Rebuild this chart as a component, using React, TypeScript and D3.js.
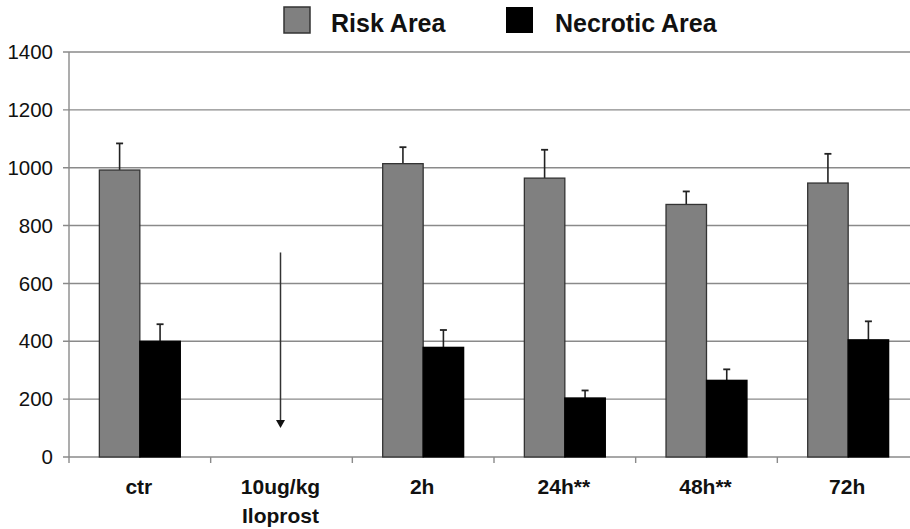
import React from 'react';
import * as d3 from 'd3';

const categories = ['ctr', '10ug/kg\nIloprost', '2h', '24h**', '48h**', '72h'];
const seriesNames = ['Risk Area', 'Necrotic Area'];
const riskValues = [992, null, 1014, 964, 873, 947];
const riskErrors = [92, null, 57, 98, 45, 101];
const necroticValues = [400, null, 379, 204, 265, 405];
const necroticErrors = [59, null, 60, 26, 38, 64];
const yTicks = [0, 200, 400, 600, 800, 1000, 1200, 1400];
// arrow drawn in the Iloprost slot (from / to, in data units)
const arrowFrom = 707;
const arrowTo = 100;

const W = 910;
const H = 529;
const colors = ['#808080', '#000000'];

const App = () => {
    const x0 = d3.scaleBand().domain(categories).range([69, 919]);
    const x1 = d3.scaleBand().domain(seriesNames).range([0, x0.bandwidth()]).paddingOuter(0.75);
    const y = d3.scaleLinear().domain([0, 1400]).range([457, 52]);

    const values = [riskValues, necroticValues];
    const errors = [riskErrors, necroticErrors];
    const font = '"Liberation Sans", Arial, sans-serif';

    const arrowX = x0(categories[1]) + x0.bandwidth() / 2 - 1;

    return (
        <svg width={W} height={H} style={{ position: 'absolute', left: 0, top: 0, background: '#fff' }}>
            {/* gridlines */}
            {yTicks.map(t => (
                <g key={t}>
                    <line x1={63} x2={W} y1={y(t)} y2={y(t)} stroke="#8a8a8a" strokeWidth={1.4} />
                    <text x={53} y={y(t)} dy="0.35em" textAnchor="end" fontFamily={font} fontSize={20.5} fill="#111">
                        {t}
                    </text>
                </g>
            ))}
            {/* y axis */}
            <line x1={69} x2={69} y1={y(1400)} y2={y(0)} stroke="#8a8a8a" strokeWidth={1.4} />
            {/* x axis ticks */}
            {categories.map((c, i) => (
                <line key={'t' + i} x1={x0(c)} x2={x0(c)} y1={y(0)} y2={y(0) + 6} stroke="#8a8a8a" strokeWidth={1.4} />
            ))}

            {/* bars */}
            {categories.map((c, i) => (
                <g key={c} transform={`translate(${x0(c)},0)`}>
                    {seriesNames.map((s, j) => {
                        const v = values[j][i];
                        if (v == null) return null;
                        const e = errors[j][i];
                        const bx = x1(s);
                        const cx = bx + x1.bandwidth() / 2;
                        return (
                            <g key={s}>
                                <line x1={cx} x2={cx} y1={y(v)} y2={y(v + e)} stroke="#222" strokeWidth={1.6} />
                                <line x1={cx - 3.5} x2={cx + 3.5} y1={y(v + e)} y2={y(v + e)} stroke="#222" strokeWidth={1.8} />
                                <rect x={bx} y={y(v)} width={x1.bandwidth()} height={y(0) - y(v)}
                                    fill={colors[j]} stroke={j === 0 ? '#333' : '#000'} strokeWidth={1.3} />
                            </g>
                        );
                    })}
                </g>
            ))}

            {/* arrow */}
            <line x1={arrowX} x2={arrowX} y1={y(arrowFrom)} y2={y(arrowTo) - 6} stroke="#333" strokeWidth={1.5} />
            <path d={`M${arrowX - 4.5},${y(arrowTo) - 8} L${arrowX + 4.5},${y(arrowTo) - 8} L${arrowX},${y(arrowTo)} Z`} fill="#111" />

            {/* x labels */}
            {categories.map(c => (
                <text key={'l' + c} x={x0(c) + x0.bandwidth() / 2 - 1} y={494} textAnchor="middle"
                    fontFamily={font} fontWeight="bold" fontSize={21} fill="#111">
                    {c.split('\n').map((part, k) => (
                        <tspan key={k} x={x0(c) + x0.bandwidth() / 2 - 1} dy={k === 0 ? 0 : 29}>{part}</tspan>
                    ))}
                </text>
            ))}

            {/* legend */}
            <rect x={284} y={7} width={26} height={26} fill={colors[0]} stroke="#333" strokeWidth={1.5} />
            <text x={331} y={32} fontFamily={font} fontWeight="bold" fontSize={25} fill="#111">{seriesNames[0]}</text>
            <rect x={506} y={7} width={27} height={26} fill={colors[1]} />
            <text x={555} y={32} fontFamily={font} fontWeight="bold" fontSize={25} fill="#111">{seriesNames[1]}</text>
        </svg>
    );
};

export default App;
